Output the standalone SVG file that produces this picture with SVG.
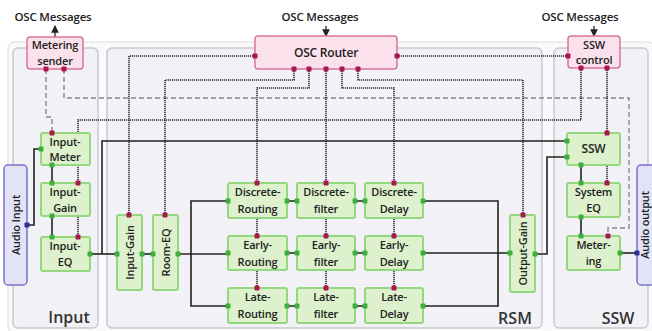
<svg xmlns="http://www.w3.org/2000/svg" width="652" height="331" viewBox="0 0 652 331">
<defs>
<style>
.panel{fill:#f1f1f6;stroke:#c8c8ce;stroke-width:1.5}
.g{fill:#dcf1cc;stroke:#93d77f;stroke-width:2}
.p{fill:#fbe1eb;stroke:#d7769b;stroke-width:1.5}
.a{fill:#e3e3f7;stroke:#7c70cc;stroke-width:1.5}
.t{font-family:"Open Sans","Noto Sans",sans-serif;font-weight:600;font-size:11px;fill:#222;text-anchor:middle;letter-spacing:-0.2px}
.lbl{font-family:"Open Sans","Noto Sans",sans-serif;font-weight:600;font-size:16px;fill:#333;text-anchor:middle}
.sig{fill:none;stroke:#222;stroke-width:1.6}
.osc{fill:none;stroke:#333;stroke-width:1.6;stroke-dasharray:1.2 0.8}
.dash{fill:none;stroke:#888;stroke-width:1.4;stroke-dasharray:5 3}
.arr{fill:none;stroke:#222;stroke-width:1.3}
.gp{fill:#3fae3f}
.mp{fill:#a8174f}
.bp{fill:#2d2d9a}
</style>
<rect id="port" x="-2.5" y="-2.5" width="5" height="5" rx="1"/>
<marker id="ah" viewBox="0 0 8 8" refX="7" refY="4" markerWidth="6" markerHeight="6" orient="auto"><path d="M0,0 L8,4 L0,8 z" fill="#222"/></marker>
</defs>
<rect x="8" y="42" width="646" height="291" rx="6" fill="#fafafc" stroke="#dcdce0"/>
<g id="panels">
<rect class="panel" x="13" y="48" width="85" height="280" rx="5"/>
<rect class="panel" x="107" y="48" width="435" height="280" rx="5"/>
<rect class="panel" x="554" y="48" width="94" height="280" rx="5"/>
<text class="lbl" x="69" y="323">Input</text>
<text class="lbl" x="515" y="324">RSM</text>
<text class="lbl" x="618" y="324">SSW</text>
</g>
<g id="osc-labels">
<text class="t" x="53" y="21" style="font-size:11.5px">OSC Messages</text>
<text class="t" x="320" y="21" style="font-size:11.5px">OSC Messages</text>
<text class="t" x="580" y="21" style="font-size:11.5px">OSC Messages</text>
<path class="arr" d="M55,37 V26" marker-end="url(#ah)"/>
<path class="arr" d="M326,26 V36" marker-end="url(#ah)"/>
<path class="arr" d="M594,26 V36" marker-end="url(#ah)"/>
</g>
<g id="connectors">
<path class="dash" d="M64,69 V98 H629 V228 H608 V236"/>
<path class="dash" d="M46,69 V117 H52 V133"/>
<path class="osc" d="M255,56 H129 V215"/>
<path class="osc" d="M294,69 V80 H165 V215"/>
<path class="osc" d="M309,69 V88 H257 V288"/>
<path class="osc" d="M326,69 V288"/>
<path class="osc" d="M342,69 V88 H394 V288"/>
<path class="osc" d="M358,69 V80 H523 V215"/>
<path class="osc" d="M397,56 H568"/>
<path class="osc" d="M581,68 V120 H78 V237"/>
<path class="osc" d="M607,68 V183"/>
<path class="sig" d="M27,225 H34 V149 H41"/>
<path class="sig" d="M52,165 V183"/>
<path class="sig" d="M52,216 V237"/>
<path class="sig" d="M90,254 H117"/>
<path class="sig" d="M102,254 V141 H567"/>
<path class="sig" d="M142,254 H153"/>
<path class="sig" d="M178,254 H228"/>
<path class="sig" d="M228,201 H191 V306 H228"/>
<path class="sig" d="M287,201 H297 M355,201 H365 M287,253 H297 M355,253 H365 M287,306 H297 M355,306 H365"/>
<path class="sig" d="M423,201 H498 V306 H423"/>
<path class="sig" d="M423,253 H510"/>
<path class="sig" d="M535,254 H547 V157 H567"/>
<path class="sig" d="M581,165 V183"/>
<path class="sig" d="M581,217 V236"/>
<path class="sig" d="M620,253 H637"/>
</g>
<g id="metering-sender">
<rect class="p" x="27" y="37" width="56" height="32" rx="3"/>
<text class="t" x="55" y="49">Metering</text>
<text class="t" x="55" y="64.5">sender</text>
<use href="#port" class="mp" x="46" y="69"/><use href="#port" class="mp" x="64" y="69"/>
</g>
<g id="osc-router">
<rect class="p" x="255" y="36" width="142" height="33" rx="3"/>
<text class="t" x="326" y="57" style="font-size:12px">OSC Router</text>
<use href="#port" class="mp" x="255" y="56"/><use href="#port" class="mp" x="397" y="56"/>
<use href="#port" class="mp" x="294" y="69"/><use href="#port" class="mp" x="309" y="69"/><use href="#port" class="mp" x="326" y="69"/><use href="#port" class="mp" x="342" y="69"/><use href="#port" class="mp" x="358" y="69"/>
</g>
<g id="ssw-control">
<rect class="p" x="568" y="36" width="52" height="32" rx="3"/>
<text class="t" x="594" y="48.5">SSW</text>
<text class="t" x="594" y="64">control</text>
<use href="#port" class="mp" x="568" y="56"/><use href="#port" class="mp" x="581" y="68"/><use href="#port" class="mp" x="607" y="68"/>
</g>
<g id="audio-input">
<rect class="a" x="4" y="165" width="23" height="120" rx="4"/>
<text class="t" transform="translate(19.5,225) rotate(-90)">Audio Input</text>
<use href="#port" class="bp" x="27" y="225"/>
</g>
<g id="input-meter">
<rect class="g" x="41" y="133" width="49" height="32" rx="2"/>
<text class="t" x="65" y="145.5">Input-</text><text class="t" x="65" y="161">Meter</text>
<use href="#port" class="gp" x="41" y="149"/><use href="#port" class="gp" x="52" y="165"/><use href="#port" class="mp" x="52" y="133"/>
</g>
<g id="input-gain-in">
<rect class="g" x="41" y="183" width="49" height="33" rx="2"/>
<text class="t" x="65" y="196">Input-</text><text class="t" x="65" y="211.5">Gain</text>
<use href="#port" class="gp" x="52" y="183"/><use href="#port" class="gp" x="52" y="216"/><use href="#port" class="mp" x="78" y="183"/>
</g>
<g id="input-eq">
<rect class="g" x="41" y="237" width="49" height="34" rx="2"/>
<text class="t" x="65" y="250">Input-</text><text class="t" x="65" y="266">EQ</text>
<use href="#port" class="gp" x="52" y="237"/><use href="#port" class="gp" x="90" y="254"/><use href="#port" class="mp" x="78" y="237"/>
</g>
<g id="input-gain-rsm">
<rect class="g" x="117" y="215" width="25" height="75" rx="2"/>
<text class="t" transform="translate(133.5,252.5) rotate(-90)">Input-Gain</text>
<use href="#port" class="gp" x="117" y="254"/><use href="#port" class="gp" x="142" y="254"/><use href="#port" class="mp" x="129" y="215"/>
</g>
<g id="room-eq">
<rect class="g" x="153" y="215" width="25" height="75" rx="2"/>
<text class="t" transform="translate(169.5,252.5) rotate(-90)">Room-EQ</text>
<use href="#port" class="gp" x="153" y="254"/><use href="#port" class="gp" x="178" y="254"/><use href="#port" class="mp" x="165" y="215"/>
</g>
<g id="discrete-routing">
<rect class="g" x="228" y="183" width="59" height="35" rx="2"/>
<text class="t" x="257.5" y="196">Discrete-</text><text class="t" x="257.5" y="213">Routing</text>
<use href="#port" class="gp" x="228" y="201"/><use href="#port" class="gp" x="287" y="201"/><use href="#port" class="mp" x="257" y="183"/>
</g>
<g id="discrete-filter">
<rect class="g" x="297" y="183" width="58" height="35" rx="2"/>
<text class="t" x="326" y="196">Discrete-</text><text class="t" x="326" y="213">filter</text>
<use href="#port" class="gp" x="297" y="201"/><use href="#port" class="gp" x="355" y="201"/><use href="#port" class="mp" x="326" y="183"/>
</g>
<g id="discrete-delay">
<rect class="g" x="365" y="183" width="58" height="35" rx="2"/>
<text class="t" x="394" y="196">Discrete-</text><text class="t" x="394" y="213">Delay</text>
<use href="#port" class="gp" x="365" y="201"/><use href="#port" class="gp" x="423" y="201"/><use href="#port" class="mp" x="394" y="183"/>
</g>
<g id="early-routing">
<rect class="g" x="228" y="236" width="59" height="34" rx="2"/>
<text class="t" x="257.5" y="249">Early-</text><text class="t" x="257.5" y="266">Routing</text>
<use href="#port" class="gp" x="228" y="253"/><use href="#port" class="gp" x="287" y="253"/><use href="#port" class="mp" x="257" y="236"/>
</g>
<g id="early-filter">
<rect class="g" x="297" y="236" width="58" height="34" rx="2"/>
<text class="t" x="326" y="249">Early-</text><text class="t" x="326" y="266">filter</text>
<use href="#port" class="gp" x="297" y="253"/><use href="#port" class="gp" x="355" y="253"/><use href="#port" class="mp" x="326" y="236"/>
</g>
<g id="early-delay">
<rect class="g" x="365" y="236" width="58" height="34" rx="2"/>
<text class="t" x="394" y="249">Early-</text><text class="t" x="394" y="266">Delay</text>
<use href="#port" class="gp" x="365" y="253"/><use href="#port" class="gp" x="423" y="253"/><use href="#port" class="mp" x="394" y="236"/>
</g>
<g id="late-routing">
<rect class="g" x="228" y="288" width="59" height="35" rx="2"/>
<text class="t" x="257.5" y="301">Late-</text><text class="t" x="257.5" y="318">Routing</text>
<use href="#port" class="gp" x="228" y="306"/><use href="#port" class="gp" x="287" y="306"/><use href="#port" class="mp" x="257" y="288"/>
</g>
<g id="late-filter">
<rect class="g" x="297" y="288" width="58" height="35" rx="2"/>
<text class="t" x="326" y="301">Late-</text><text class="t" x="326" y="318">filter</text>
<use href="#port" class="gp" x="297" y="306"/><use href="#port" class="gp" x="355" y="306"/><use href="#port" class="mp" x="326" y="288"/>
</g>
<g id="late-delay">
<rect class="g" x="365" y="288" width="58" height="35" rx="2"/>
<text class="t" x="394" y="301">Late-</text><text class="t" x="394" y="318">Delay</text>
<use href="#port" class="gp" x="365" y="306"/><use href="#port" class="gp" x="423" y="306"/><use href="#port" class="mp" x="394" y="288"/>
</g>
<g id="output-gain">
<rect class="g" x="510" y="215" width="25" height="77" rx="2"/>
<text class="t" transform="translate(526.5,253.5) rotate(-90)">Output-Gain</text>
<use href="#port" class="gp" x="510" y="253"/><use href="#port" class="gp" x="535" y="254"/><use href="#port" class="mp" x="523" y="215"/>
</g>
<g id="ssw">
<rect class="g" x="567" y="133" width="53" height="32" rx="2"/>
<text class="t" x="593.5" y="153" style="font-size:12px">SSW</text>
<use href="#port" class="gp" x="567" y="141"/><use href="#port" class="gp" x="567" y="157"/><use href="#port" class="gp" x="581" y="165"/><use href="#port" class="mp" x="607" y="133"/>
</g>
<g id="system-eq">
<rect class="g" x="567" y="183" width="53" height="34" rx="2"/>
<text class="t" x="593.5" y="196">System</text><text class="t" x="593.5" y="212">EQ</text>
<use href="#port" class="gp" x="581" y="183"/><use href="#port" class="gp" x="581" y="217"/><use href="#port" class="mp" x="607" y="183"/>
</g>
<g id="metering">
<rect class="g" x="567" y="236" width="53" height="34" rx="2"/>
<text class="t" x="593.5" y="249">Meter-</text><text class="t" x="593.5" y="265">ing</text>
<use href="#port" class="gp" x="581" y="236"/><use href="#port" class="gp" x="620" y="253"/><use href="#port" class="mp" x="608" y="236"/>
</g>
<g id="audio-output">
<rect class="a" x="637" y="165" width="22" height="120" rx="4"/>
<text class="t" transform="translate(648.5,225) rotate(-90)">Audio output</text>
<use href="#port" class="bp" x="637" y="253"/>
</g>
</svg>
